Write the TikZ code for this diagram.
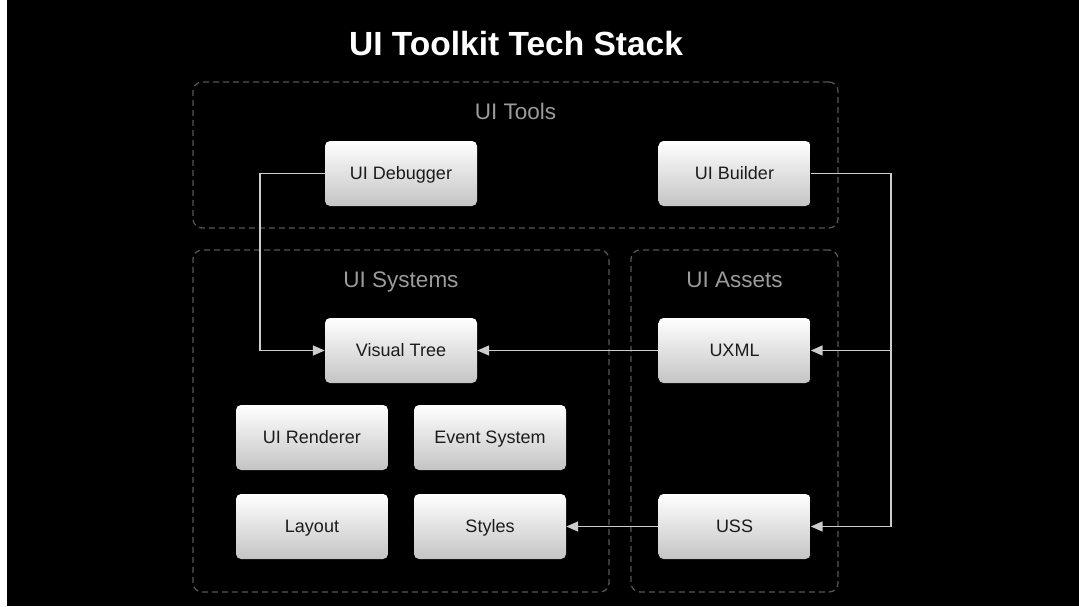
\documentclass[tikz,border=0pt]{standalone}
\usepackage{fontspec}
\setmainfont{Liberation Sans}
\usepackage{tikz}
\usetikzlibrary{arrows.meta}
\definecolor{cline}{RGB}{205,205,205}
\definecolor{cdash}{RGB}{85,85,85}
\definecolor{clabel}{RGB}{155,155,155}
\definecolor{cboxlow}{RGB}{196,196,196}
\definecolor{ctext}{RGB}{28,28,28}

\begin{document}
\begin{tikzpicture}[x=1pt,y=-1pt,>={Triangle[length=12pt,width=10pt]},
  box node/.style={rectangle,rounded corners=5pt,top color=white,bottom color=cboxlow,
    minimum width=152pt,minimum height=65pt,inner sep=0pt,text=ctext,
    text height=12.9pt,text depth=0pt,font=\fontsize{18}{22}\selectfont},
  group node/.style={rectangle,draw=cdash,line width=1.3pt,dash pattern=on 6pt off 4pt,
    rounded corners=9pt,inner sep=0pt},
  group label/.style={text=clabel,text height=16.1pt,text depth=0pt,
    font=\fontsize{22.5}{27}\selectfont},
  link/.style={draw=cline,line width=1.5pt}]
  % page and background
  \useasboundingbox (0,0) rectangle (1079,606);
  \fill[white] (0,0) rectangle (1079,606);
  \fill[black] (7,0) rectangle (1079,606);

  \node[text=white,text height=24pt,text depth=0pt,
    font=\fontsize{33.5}{40}\selectfont\bfseries] (title) at (516,43) {UI Toolkit Tech Stack};

  % dashed groups
  \node[group node,minimum width=645pt,minimum height=146pt] (tools) at (515.5,155) {};
  \node[group node,minimum width=416pt,minimum height=342pt] (systems) at (401,421) {};
  \node[group node,minimum width=207pt,minimum height=342pt] (assets) at (734.5,421) {};
  \node[group label] (toolslbl) at (515.5,111) {UI Tools};
  \node[group label] (systemslbl) at (401,279) {UI Systems};
  \node[group label] (assetslbl) at (734.5,279) {UI Assets};

  % boxes
  \node[box node] (debugger) at (401,173.5) {UI Debugger};
  \node[box node] (builder) at (734.5,173.5) {UI Builder};
  \node[box node] (vtree) at (401,350.5) {Visual Tree};
  \node[box node] (uxml) at (734.5,350.5) {UXML};
  \node[box node] (renderer) at (312,437.5) {UI Renderer};
  \node[box node] (events) at (490,437.5) {Event System};
  \node[box node] (layout) at (312,526.5) {Layout};
  \node[box node] (styles) at (490,526.5) {Styles};
  \node[box node] (uss) at (734.5,526.5) {USS};

  \coordinate (lbend) at (260,173.5);
  \coordinate (rbend) at (891,173.5);

  \path[link,->] (debugger.west) -- (lbend) |- (vtree.west);
  \path[link,->] (builder.east) -- (rbend) |- (uxml.east);
  \path[link,->] (rbend) |- (uss.east);
  \path[link,->] (uxml.west) -- (vtree.east);
  \path[link,->] (uss.west) -- (styles.east);
\end{tikzpicture}
\end{document}
